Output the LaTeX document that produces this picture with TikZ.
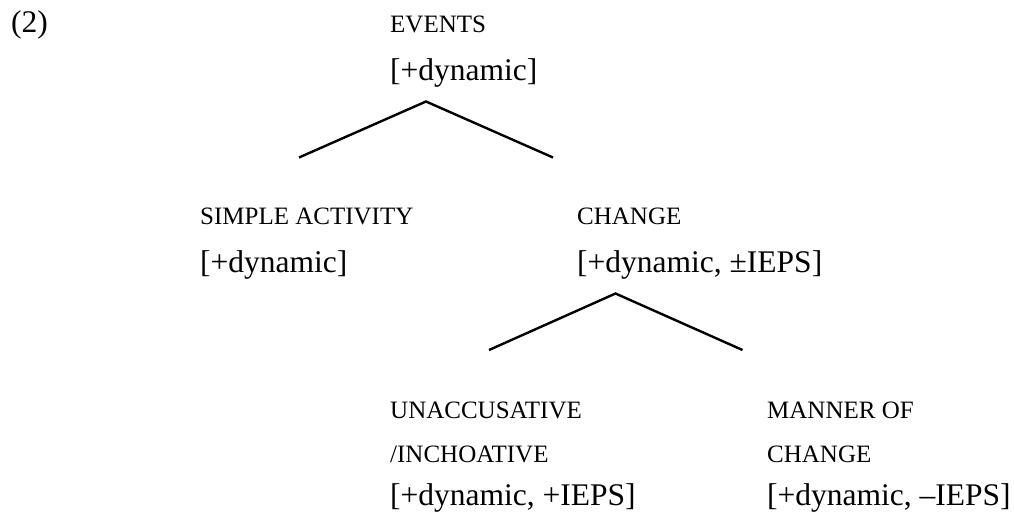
\documentclass[tikz,border=0pt]{standalone}
\usepackage{fontspec}
\setmainfont{Liberation Serif}
\begin{document}
\begin{tikzpicture}[x=1pt,y=-1pt,
  feat/.style={anchor=base west,inner sep=0pt,font=\fontsize{31.5}{38}\selectfont},
  cat/.style={anchor=base west,inner sep=0pt,font=\fontsize{25}{30}\selectfont},
  branch/.style={line width=2.4pt}]
\useasboundingbox (0,0) rectangle (1014,517);

% example number
\node[feat] (num) at (11,32) {(2)};

% root
\node[cat]  (ev)    at (390,32) {EVENTS};
\node[feat] (evf)   at (390,80) {[+dynamic]};

% first level
\node[cat]  (sa)    at (200,224) {SIMPLE ACTIVITY};
\node[feat] (saf)   at (200,272) {[+dynamic]};
\node[cat]  (ch)    at (577,224) {CHANGE};
\node[feat] (chf)   at (577,272) {[+dynamic, ±IEPS]};

% second level
\node[cat]  (un)    at (390,418) {UNACCUSATIVE};
\node[cat]  (inch)  at (390,462) {/INCHOATIVE};
\node[feat] (unf)   at (390,505) {[+dynamic, +IEPS]};
\node[cat]  (mo)    at (767,418) {MANNER OF};
\node[cat]  (moc)   at (767,462) {CHANGE};
\node[feat] (mof)   at (767,505) {[+dynamic, –IEPS]};

% branch points
\coordinate (ev-top) at (426,101.5);
\coordinate (ev-l)   at (299,157.5);
\coordinate (ev-r)   at (553,157.5);
\coordinate (ch-top) at (615.5,293.5);
\coordinate (ch-l)   at (489,350);
\coordinate (ch-r)   at (742.5,350);

\draw[branch] (ev-l) -- (ev-top) -- (ev-r);
\draw[branch] (ch-l) -- (ch-top) -- (ch-r);
\end{tikzpicture}
\end{document}
